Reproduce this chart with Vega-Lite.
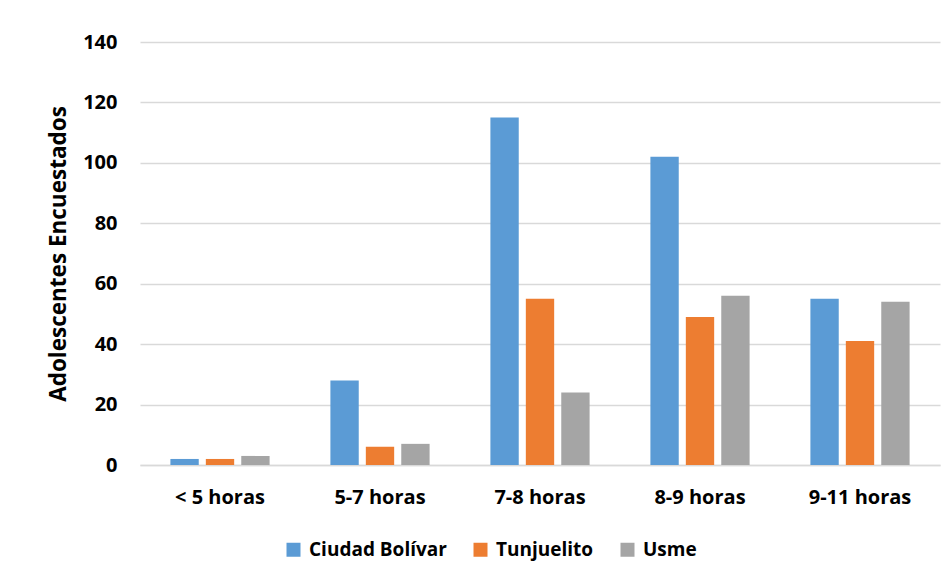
{
  "$schema": "https://vega.github.io/schema/vega-lite/v6.json",
  "width": 800,
  "height": 423,
  "autosize": "none",
  "padding": {"left": 140, "top": 42, "right": 12, "bottom": 118},
  "background": "white",
  "config": {
    "view": {"stroke": null},
    "font": "Open Sans",
    "axis": {"labelFont": "Open Sans", "titleFont": "Open Sans", "labelFontWeight": "bold", "titleFontWeight": "bold", "labelColor": "#000000", "titleColor": "#000000"},
    "legend": {"labelFont": "Open Sans", "labelFontWeight": "bold", "labelColor": "#000000"}
  },
  "data": {
    "values": [
      {"horas": "< 5 horas", "localidad": "Ciudad Bolívar", "n": 2},
      {"horas": "< 5 horas", "localidad": "Tunjuelito", "n": 2},
      {"horas": "< 5 horas", "localidad": "Usme", "n": 3},
      {"horas": "5-7 horas", "localidad": "Ciudad Bolívar", "n": 28},
      {"horas": "5-7 horas", "localidad": "Tunjuelito", "n": 6},
      {"horas": "5-7 horas", "localidad": "Usme", "n": 7},
      {"horas": "7-8 horas", "localidad": "Ciudad Bolívar", "n": 115},
      {"horas": "7-8 horas", "localidad": "Tunjuelito", "n": 55},
      {"horas": "7-8 horas", "localidad": "Usme", "n": 24},
      {"horas": "8-9 horas", "localidad": "Ciudad Bolívar", "n": 102},
      {"horas": "8-9 horas", "localidad": "Tunjuelito", "n": 49},
      {"horas": "8-9 horas", "localidad": "Usme", "n": 56},
      {"horas": "9-11 horas", "localidad": "Ciudad Bolívar", "n": 55},
      {"horas": "9-11 horas", "localidad": "Tunjuelito", "n": 41},
      {"horas": "9-11 horas", "localidad": "Usme", "n": 54}
    ]
  },
  "mark": {"type": "bar"},
  "encoding": {
    "x": {
      "field": "horas", "type": "nominal",
      "sort": ["< 5 horas", "5-7 horas", "7-8 horas", "8-9 horas", "9-11 horas"],
      "scale": {"paddingInner": 0.38, "paddingOuter": 0.19},
      "axis": {"title": null, "labelAngle": 0, "labelFontSize": 20, "labelPadding": 22, "ticks": false, "domainColor": "#d9d9d9", "domainWidth": 1.5, "grid": false}
    },
    "xOffset": {
      "field": "localidad", "type": "nominal",
      "sort": ["Ciudad Bolívar", "Tunjuelito", "Usme"],
      "scale": {"paddingInner": 0.2}
    },
    "y": {
      "field": "n", "type": "quantitative",
      "scale": {"domain": [0, 140], "nice": false},
      "axis": {"title": "Adolescentes Encuestados", "titleFontSize": 22.5, "titlePadding": 12, "labelFontSize": 20, "labelPadding": 23, "values": [0, 20, 40, 60, 80, 100, 120, 140], "ticks": false, "domain": false, "gridColor": "#d9d9d9", "gridWidth": 1.5}
    },
    "color": {
      "field": "localidad", "type": "nominal",
      "sort": ["Ciudad Bolívar", "Tunjuelito", "Usme"],
      "scale": {"domain": ["Ciudad Bolívar", "Tunjuelito", "Usme"], "range": ["#5B9BD5", "#ED7D31", "#A5A5A5"]},
      "legend": {"title": null, "orient": "none", "direction": "horizontal", "legendX": 144, "legendY": 498, "symbolType": "square", "symbolSize": 196, "symbolStrokeWidth": 0, "labelFontSize": 19, "labelOffset": 6, "columnPadding": 24}
    }
  }
}
